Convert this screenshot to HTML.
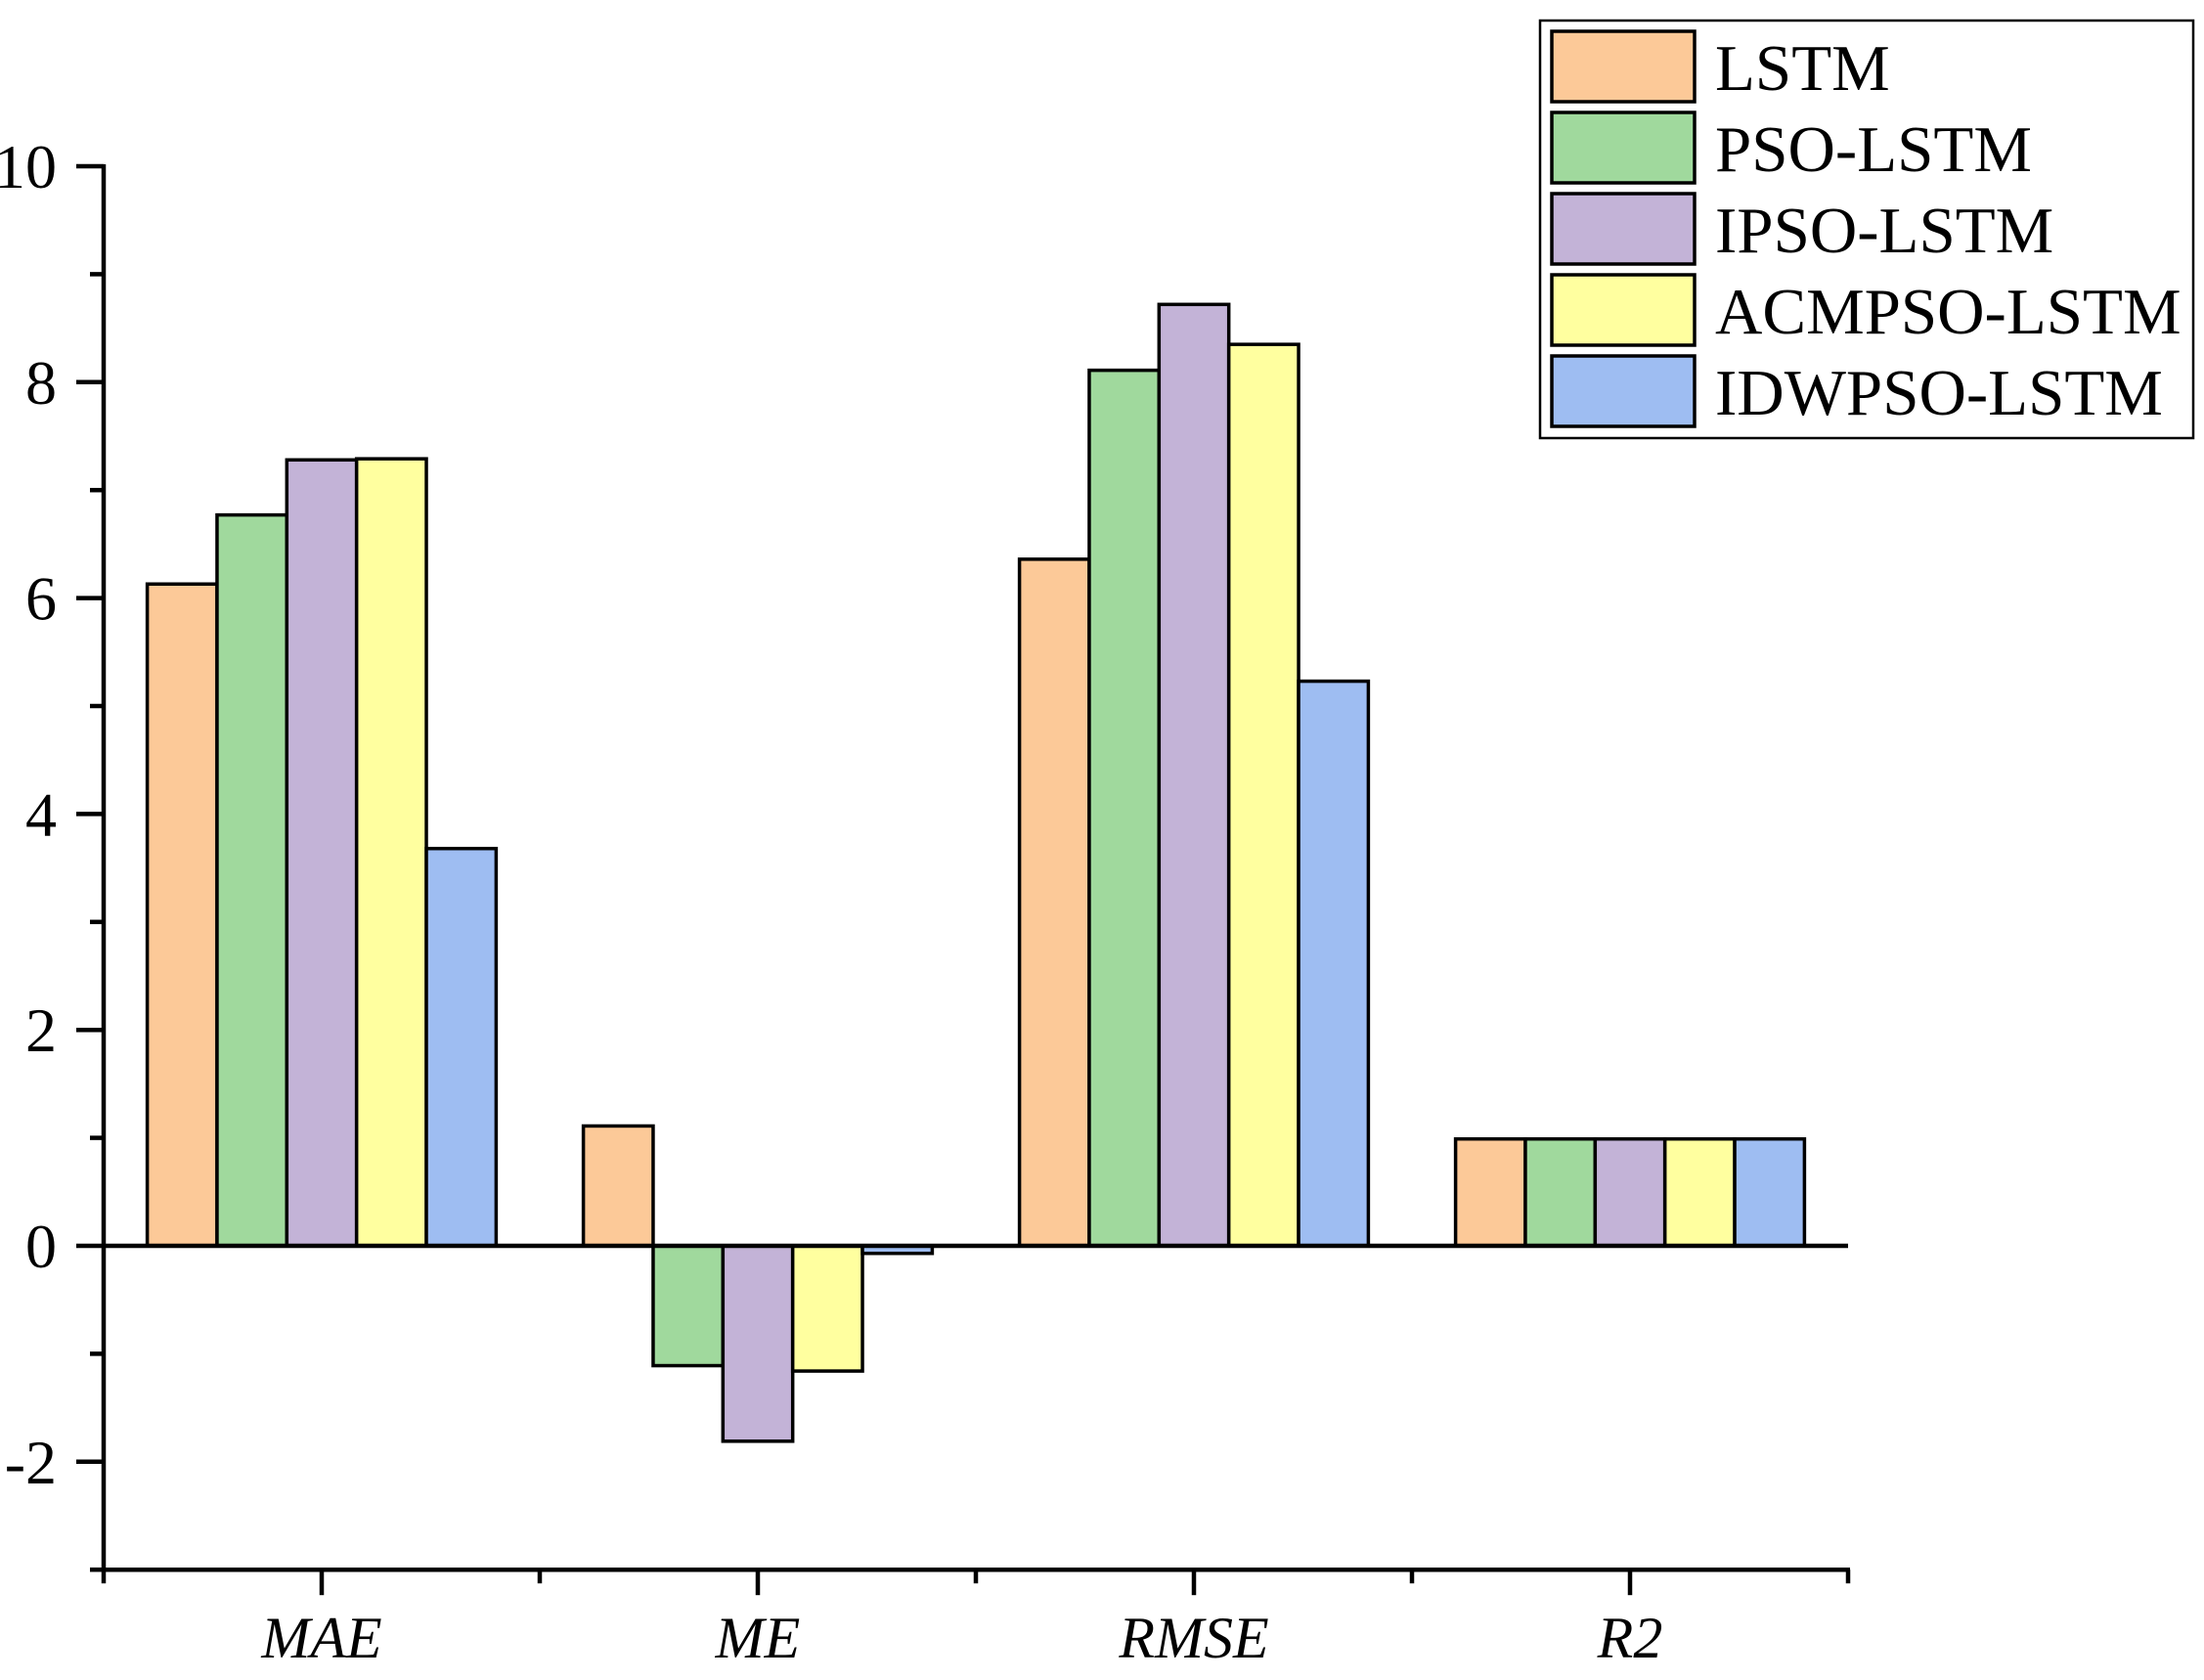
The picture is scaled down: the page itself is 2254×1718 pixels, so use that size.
<!DOCTYPE html>
<html><head><meta charset="utf-8"><style>
html,body{margin:0;padding:0;background:#fff;}
svg{display:block;}
text{font-family:"Liberation Serif","Times New Roman",serif;fill:#000;}
</style></head><body>
<svg id="chart" width="2254" height="1718" viewBox="0 0 2254 1718" xmlns="http://www.w3.org/2000/svg">
<g id="bars"></g>
<g id="axes"></g>
<g id="legend"></g>
</svg>
<script>
const categories = ["MAE", "ME", "RMSE", "R2"];
const seriesNames = ["LSTM", "PSO-LSTM", "IPSO-LSTM", "ACMPSO-LSTM", "IDWPSO-LSTM"];
const lstm = [6.13, 1.11, 6.36, 0.99];
const psoLstm = [6.77, -1.11, 8.11, 0.99];
const ipsoLstm = [7.28, -1.81, 8.72, 0.99];
const acmpsoLstm = [7.29, -1.16, 8.35, 0.99];
const idwpsoLstm = [3.68, -0.07, 5.23, 0.99];
const yTickValues = [-2, 0, 2, 4, 6, 8, 10];
const yTickLabels = ["-2", "0", "2", "4", "6", "8", "10"];

const series = [lstm, psoLstm, ipsoLstm, acmpsoLstm, idwpsoLstm];
const colors = ["#FCC998", "#A0D99D", "#C3B3D7", "#FFFF9F", "#9EBDF2"];
const NS = "http://www.w3.org/2000/svg";
const X0 = 106, X1 = 1890, YMIN = -3, YMAX = 10;
const PY10 = 170, PUNIT = 110.4;
function y(v){ return PY10 + (10 - v) * PUNIT; }
const band = (X1 - X0) / categories.length;
function xc(i){ return X0 + band * (i + 0.5); }
const barW = band * 0.8 / seriesNames.length;

function mk(tag, attrs, parent){
  const e = document.createElementNS(NS, tag);
  for (const k in attrs) e.setAttribute(k, attrs[k]);
  parent.appendChild(e);
  return e;
}
const gb = document.getElementById('bars');
const ga = document.getElementById('axes');
const gl = document.getElementById('legend');

categories.forEach((c, i) => {
  series.forEach((s, j) => {
    const v = s[i];
    const xl = xc(i) - band * 0.4 + j * barW;
    const r = mk('rect', {x: xl, y: Math.min(y(v), y(0)), width: barW, height: Math.abs(y(v) - y(0)),
      fill: colors[j], stroke: '#000', 'stroke-width': 3.5}, gb);
    
    
  });
});

const zl = mk('line', {x1: X0, x2: X1, y1: y(0), y2: y(0), stroke: '#000', 'stroke-width': 4.5}, ga);



const ya = mk('line', {x1: X0, x2: X0, y1: y(YMAX) - 2, y2: y(YMIN) + 2, stroke: '#000', 'stroke-width': 4.5}, ga);


for (let v = YMIN; v <= YMAX; v++) {
  const major = yTickValues.indexOf(v) >= 0;
  const t = mk('line', {x1: major ? 78 : 92, x2: X0, y1: y(v), y2: y(v), stroke: '#000', 'stroke-width': 4.5}, ga);
  
  
}
yTickValues.forEach((v, i) => {
  const t = mk('text', {x: 58, y: y(v) + 22, 'text-anchor': 'end', 'font-size': 64}, ga);
  t.textContent = yTickLabels[i];
  
  
});

const xa = mk('line', {x1: X0 - 2, x2: X1 + 2, y1: y(YMIN), y2: y(YMIN), stroke: '#000', 'stroke-width': 4.5}, ga);


for (let i = 0; i <= categories.length; i++) {
  const t = mk('line', {x1: X0 + band * i, x2: X0 + band * i, y1: y(YMIN), y2: y(YMIN) + 14, stroke: '#000', 'stroke-width': 4.5}, ga);
  
  
}
categories.forEach((c, i) => {
  const t = mk('line', {x1: xc(i), x2: xc(i), y1: y(YMIN), y2: y(YMIN) + 26, stroke: '#000', 'stroke-width': 4.5}, ga);
  
  
  const l = mk('text', {x: xc(i), y: 1695, 'text-anchor': 'middle', 'font-size': 60, 'font-style': 'italic'}, ga);
  l.textContent = c;
  
  
});

const lb = mk('rect', {x: 1575, y: 21, width: 668, height: 427, fill: '#fff', stroke: '#000', 'stroke-width': 2.5}, gl);


seriesNames.forEach((n, j) => {
  const top = 32 + j * 83;
  const s = mk('rect', {x: 1587, y: top, width: 146, height: 72, fill: colors[j], stroke: '#000', 'stroke-width': 3.5}, gl);
  
  
  const t = mk('text', {x: 1754, y: top + 60, 'font-size': 67}, gl);
  t.textContent = n;
  
  
});
</script>
</body></html>
